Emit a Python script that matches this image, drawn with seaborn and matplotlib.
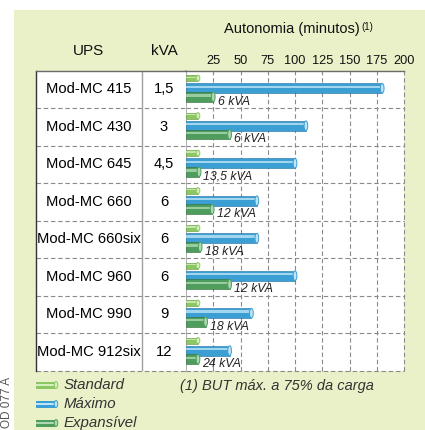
import matplotlib
matplotlib.use("Agg")
import matplotlib.pyplot as plt
from matplotlib.patches import Rectangle, Ellipse
import seaborn as sns

# Data
models = ["Mod-MC 415", "Mod-MC 430", "Mod-MC 645", "Mod-MC 660",
          "Mod-MC 660six", "Mod-MC 960", "Mod-MC 990", "Mod-MC 912six"]
kva = ["1,5", "3", "4,5", "6", "6", "6", "9", "12"]
standard = [11, 11, 11, 11, 11, 11, 11, 11]
maximo = [180, 110, 100, 65, 65, 100, 60, 40]
expansivel = [25, 40, 12, 24, 13, 40, 18, 11]
exp_labels = ["6 kVA", "6 kVA", "13,5 kVA", "12 kVA", "18 kVA", "12 kVA", "18 kVA", "24 kVA"]
x_ticks = [25, 50, 75, 100, 125, 150, 175, 200]
legend_labels = ["Standard", "Máximo", "Expansível"]

W, H = 425, 430


def fx(px):
    return px / W


def fy(py):
    return 1 - py / H


sns.set_theme(style="white")
plt.rcParams["font.family"] = ["Liberation Sans", "DejaVu Sans"]

fig = plt.figure(figsize=(W / 100, H / 100), dpi=100)
fig.patch.set_facecolor("white")
fig.add_artist(Rectangle((fx(14), 0), 1 - fx(14), fy(10), transform=fig.transFigure,
                         facecolor="#eaf0c8", edgecolor="none", zorder=0))

top, bottom = 70.7, 370.5
ax = fig.add_axes([fx(186), fy(bottom), fx(404) - fx(186), (bottom - top) / H])
tab = fig.add_axes([fx(36), fy(bottom), fx(186) - fx(36), (bottom - top) / H])
ax.set_facecolor("white")
tab.set_facecolor("white")

# bar styles: colour, highlight, edge, thickness, offset inside the row
series = [
    (standard, "#8cc763", "#d6f0bd", "#5f9a3c", 0.16, -0.30),
    (maximo, "#3b9fd3", "#bde4f7", "#216f9f", 0.26, -0.03),
    (expansivel, "#4f9d5d", "#acd8b1", "#2f6b3b", 0.26, 0.20),
]
for vals, col, light, dark, h, off in series:
    n0 = len(ax.patches)
    sns.barplot(x=vals, y=models, orient="h", color=col, width=h, saturation=1,
                errorbar=None, ax=ax, zorder=3)
    for p in list(ax.patches[n0:]):
        p.set_y(p.get_y() + off)
        p.set_edgecolor(dark)
        p.set_linewidth(0.4)
        x0, y0, w, hh = p.get_x(), p.get_y(), p.get_width(), p.get_height()
        ax.add_patch(Rectangle((x0, y0 + hh * 0.22), w, hh * 0.25,
                               facecolor=light, edgecolor="none", alpha=0.8, zorder=4))
        ax.add_patch(Ellipse((x0 + w, y0 + hh / 2), 3.4, hh, facecolor=light,
                             edgecolor=col, lw=0.7, zorder=5))

for i, lab in enumerate(exp_labels):
    ax.text(expansivel[i] + 4, i + 0.33, lab, style="italic", fontsize=8.8,
            ha="left", va="center", color="#222222", zorder=6)

ax.set_xlim(0, 200)
ax.set_ylim(len(models) - 0.5, -0.5)
tab.set_xlim(0, 150)
tab.set_ylim(len(models) - 0.5, -0.5)

# grid
dash = (0, (4, 2.5))
for t in x_ticks:
    ax.axvline(t, color="#8a8a8a", lw=0.8, ls=dash, zorder=1, clip_on=False)
for i in range(len(models)):
    for a in (ax, tab):
        a.axhline(i + 0.5, color="#8a8a8a", lw=0.8, ls=dash, zorder=1, clip_on=False)
tab.axvline(106, color="#a0a0a0", lw=1.0, zorder=2)

# table text
for i in range(len(models)):
    tab.text(53, i, models[i], ha="center", va="center", fontsize=10.6, color="black")
    tab.text(128, i, kva[i], ha="center", va="center", fontsize=10.6, color="black")

ax.xaxis.tick_top()
ax.set_xticks(x_ticks)
ax.set_xticklabels([str(t) for t in x_ticks])
ax.tick_params(axis="x", top=True, labeltop=True, bottom=False, labelbottom=False,
               length=0, pad=3, labelsize=9.2, labelcolor="#111111")
ax.set_yticks([])
ax.set_xlabel("")
ax.set_ylabel("")
tab.set_xticks([])
tab.set_yticks([])

for s in ("right", "bottom"):
    ax.spines[s].set_visible(False)
ax.spines["left"].set_color("#a0a0a0")
ax.spines["left"].set_linewidth(1.2)
ax.spines["top"].set_color("#6a6a6a")
ax.spines["top"].set_linewidth(1.0)
for s in ("right", "bottom"):
    tab.spines[s].set_visible(False)
tab.spines["left"].set_color("#333333")
tab.spines["left"].set_linewidth(1.0)
tab.spines["top"].set_color("#6a6a6a")
tab.spines["top"].set_linewidth(1.0)

# headers
fig.text(fx(89), fy(51), "UPS", ha="center", va="center", fontsize=11, color="#111111")
fig.text(fx(164), fy(51), "kVA", ha="center", va="center", fontsize=11, color="#111111")
title = fig.text(fx(224), fy(29), "Autonomia (minutos)", ha="left", va="center",
                 fontsize=10.5, color="#111111")
ax.annotate("(1)", xy=(1, 1), xycoords=title, xytext=(1, 0), textcoords="offset points",
            ha="left", va="top", fontsize=7, color="#111111")

# legend
leg_colors = [("#8cc763", "#d6f0bd"), ("#3b9fd3", "#bde4f7"), ("#4f9d5d", "#acd8b1")]
leg_y = [385, 404, 423]
for (col, light), yy, lab in zip(leg_colors, leg_y, legend_labels):
    fig.add_artist(Rectangle((fx(36), fy(yy + 3.5)), fx(20), 7 / H, transform=fig.transFigure,
                             facecolor=col, edgecolor="none", zorder=3))
    fig.add_artist(Rectangle((fx(36), fy(yy + 0.5)), fx(20), 2 / H, transform=fig.transFigure,
                             facecolor=light, edgecolor="none", zorder=4))
    fig.add_artist(Ellipse((fx(56), fy(yy)), fx(3.5), 7 / H, transform=fig.transFigure,
                           facecolor=light, edgecolor=col, lw=0.7, zorder=5))
    fig.text(fx(64), fy(yy), lab, ha="left", va="center", fontsize=10.8,
             style="italic", color="#333333")

fig.text(fx(180), fy(386), "(1) BUT máx. a 75% da carga", ha="left", va="center",
         fontsize=10.5, style="italic", color="#333333")
fig.text(fx(7), fy(428), "OD 077 A", rotation=90, ha="center", va="bottom",
         fontsize=8.5, color="#555555")

fig.savefig("out.png", dpi=100, facecolor=fig.get_facecolor())
